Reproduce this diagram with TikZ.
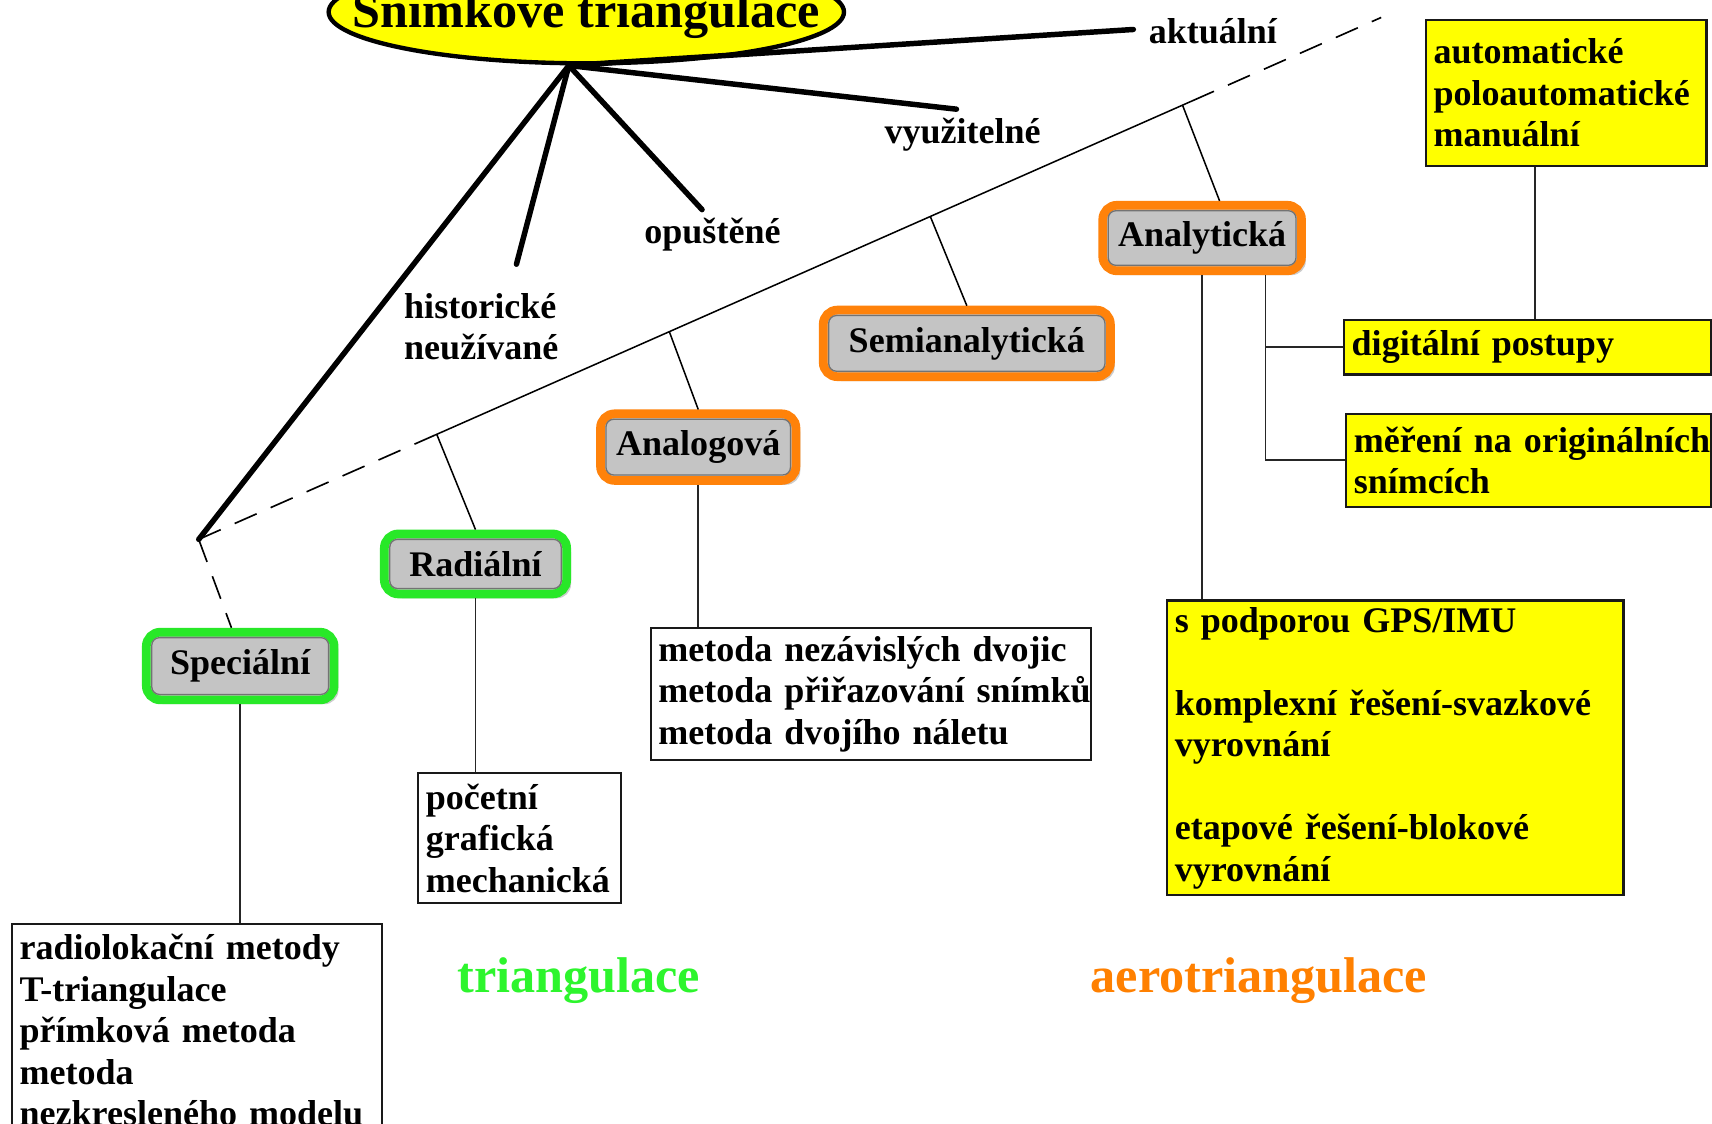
\documentclass[tikz,border=0pt]{standalone}
\usepackage{fontspec}
\setmainfont{Liberation Serif}
\usetikzlibrary{shapes.geometric,shadows,calc}
\definecolor{ylw}{RGB}{255,255,0}
\definecolor{grnb}{RGB}{40,232,40}
\definecolor{orgb}{RGB}{255,130,10}
\definecolor{grnt}{RGB}{45,245,45}
\definecolor{orgt}{RGB}{255,128,0}
\definecolor{catgray}{RGB}{196,196,196}
\begin{document}
\begin{tikzpicture}[x=1pt,y=-1pt,
  every node/.style={font=\fontsize{33}{38}\selectfont\bfseries, inner sep=0pt},
  hubln/.style={line width=5pt, line cap=round},
  conn/.style={line width=1.6pt, draw=black!85},
  dashln/.style={line width=1.5pt, dash pattern=on 22pt off 14pt},
  fineln/.style={line width=1.4pt},
  catbox/.style={rectangle, rounded corners=13pt, fill=catgray, line width=8pt,
    drop shadow={shadow xshift=4pt, shadow yshift=-4pt, opacity=0.4}},
  grncat/.style={catbox, draw=grnb},
  orgcat/.style={catbox, draw=orgb},
  inedge/.style={line width=1.2pt, draw=black!55, rounded corners=7pt},
  listbox/.style={rectangle, draw=black!90, line width=2pt, fill=white,
    inner xsep=7pt, inner ysep=0pt, align=left, anchor=north west},
  ylwbox/.style={listbox, fill=ylw},
  lbl/.style={anchor=base west},
  biglbl/.style={font=\fontsize{46}{50}\selectfont\bfseries, anchor=base},
]
\fill[white] (0,0) rectangle (1568,1029);
\useasboundingbox (0,0) rectangle (1568,1029);

% title
\node[ellipse, draw, fill=ylw, line width=4pt, minimum width=472pt, minimum height=94pt] (title) at (537,11) {};
\node[font=\fontsize{46}{50}\selectfont\bfseries, anchor=base] (titletxt) at (537,25) {Snímkové triangulace};

% labels
\node[lbl] (akt) at (1052,40) {aktuální};
\node[lbl] (vyu) at (810,131) {využitelné};
\node[lbl] (opu) at (590,223) {opuštěné};
\node[anchor=west, align=left] (his) at (370,299) {historické\\neužívané};

\coordinate (hub) at ([xshift=-16pt]title.south);
\coordinate (corner) at (182,494);
\coordinate (dend) at (1265,16);
\coordinate (aktend) at (1038,27);
\coordinate (vyuend) at (876,100);
\coordinate (opuend) at (643,192);
\coordinate (hisend) at (473,242);

\draw[hubln] (hub) -- (aktend);
\draw[hubln] (hub) -- (vyuend);
\draw[hubln] (hub) -- (opuend);
\draw[hubln] (hub) -- (hisend);
\draw[hubln] (hub) -- (corner);

% category nodes
\node[grncat, minimum width=172pt, minimum height=62pt] (spec) at (220,610) {Speciální};
\node[grncat, minimum width=167pt, minimum height=55pt] (rad) at (435.5,516.5) {Radiální};
\node[orgcat, minimum width=179pt, minimum height=61pt] (anl) at (639.5,409.5) {Analogová};
\node[orgcat, minimum width=263pt, minimum height=61pt] (sem) at (885.5,314.5) {Semianalytická};
\node[orgcat, minimum width=182pt, minimum height=60pt] (ana) at (1101,218) {Analytická};
\foreach \n in {spec,rad,anl,sem,ana}
  \draw[inedge] ([shift={(9,9)}]\n.north west) rectangle ([shift={(-9,-9)}]\n.south east);

% main baseline
\coordinate (p1) at ($(corner)!0.2!(dend)$);
\coordinate (p2) at ($(corner)!0.84!(dend)$);
\draw[dashln] (corner) -- (p1);
\draw[fineln] (p1) -- (p2);
\draw[dashln] (p2) -- (dend);
\draw[dashln] (corner) -- ([xshift=-8pt]spec.north);

\coordinate (t1) at ($(corner)!0.2013!(dend)$);
\coordinate (t2) at ($(corner)!0.398!(dend)$);
\coordinate (t3) at ($(corner)!0.6187!(dend)$);
\coordinate (t4) at ($(corner)!0.832!(dend)$);
\draw[fineln] (t1) -- (rad.north);
\draw[fineln] (t2) -- (anl.north);
\draw[fineln] (t3) -- (sem.north);
\draw[fineln] (t4) -- ([xshift=16pt]ana.north);

% list boxes
\node[listbox, text width=325pt, minimum height=195pt] (speclist) at (10,845)
  {\mbox{radiolokační metody}\\\mbox{T-triangulace}\\\mbox{přímková metoda}\\\mbox{metoda}\\\mbox{nezkresleného modelu}};
\node[listbox, text width=172pt, minimum height=119pt] (radlist) at (382,707)
  {\mbox{početní}\\\mbox{grafická}\\\mbox{mechanická}};
\node[listbox, text width=389pt, minimum height=121pt] (anllist) at (595,574)
  {\mbox{metoda nezávislých dvojic}\\\mbox{metoda přiřazování snímků}\\\mbox{metoda dvojího náletu}};
\node[ylwbox, text width=243pt, minimum height=134pt] (auto) at (1305,17)
  {\mbox{automatické}\\\mbox{poloautomatické}\\\mbox{manuální}};
\node[ylwbox, text width=322pt, minimum height=50pt] (dig) at (1230,292)
  {\mbox{digitální postupy}};
\node[ylwbox, text width=320pt, minimum height=85pt] (meas) at (1232,378)
  {\mbox{měření na originálních}\\\mbox{snímcích}};
\node[ylwbox, text width=404pt, minimum height=270pt] (gps) at (1068,549)
  {\mbox{s podporou GPS/IMU}\\[38pt]\mbox{komplexní řešení-svazkové}\\\mbox{vyrovnání}\\[38pt]\mbox{etapové řešení-blokové}\\\mbox{vyrovnání}};

% connectors
\draw[conn] (spec.south) -- (spec.south |- speclist.north);
\draw[conn] (rad.south) -- (rad.south |- radlist.north);
\draw[conn] (anl.south) -- (anl.south |- anllist.north);
\draw[conn] (ana.south) -- (ana.south |- gps.north);
\coordinate (abr) at ([xshift=58pt]ana.south);
\draw[conn] (abr) |- (meas.west);
\draw[conn] (abr |- dig.west) -- (dig.west);
\coordinate (abot) at ([xshift=-28.5pt]auto.south);
\draw[conn] (abot) -- (abot |- dig.north);

% group labels
\node[biglbl, text=grnt] (tri) at (530,909) {triangulace};
\node[biglbl, text=orgt] (aero) at (1153,909) {aerotriangulace};
\end{tikzpicture}
\end{document}
